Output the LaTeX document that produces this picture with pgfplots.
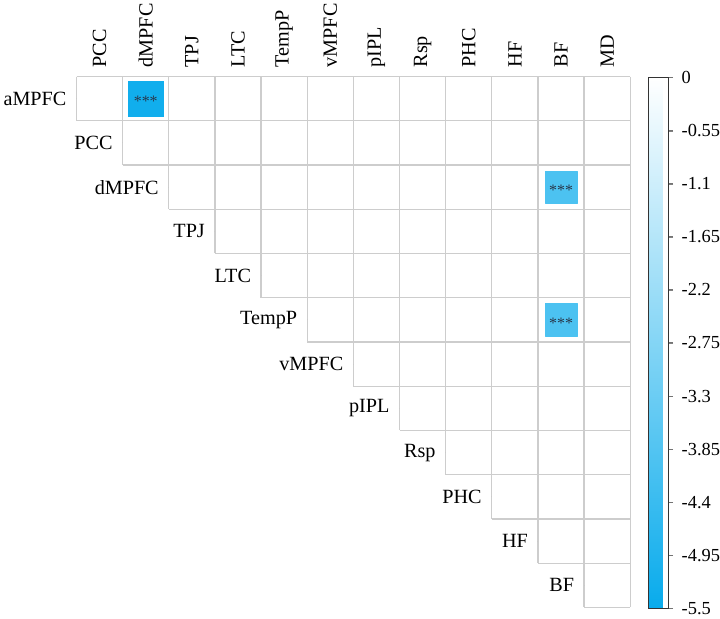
\documentclass[border=0pt]{standalone}
\usepackage{fontspec}
\setmainfont{Liberation Serif}
\usepackage{pgfplots}
\usepackage{pgfplotstable}
\pgfplotsset{compat=1.18}

\newcommand\lblfont{\fontsize{20.3}{23}\selectfont}
\newcommand\cbfont{\fontsize{18.5}{21}\selectfont}
\definecolor{gridc}{RGB}{205,205,205}
\definecolor{starc}{RGB}{40,55,75}

% significant cells: corners of the inset square, with the cell value
\pgfplotstableread{
x        y        v
1.1122   -0.9045  -5.3
1.8878   -0.9045  -5.3
1.8878   -0.0955  -5.3
1.1122   -0.0955  -5.3
10.1488  -2.8663  -4.0
10.8512  -2.8663  -4.0
10.8512  -2.1337  -4.0
10.1488  -2.1337  -4.0
10.1488  -5.8663  -4.0
10.8512  -5.8663  -4.0
10.8512  -5.1337  -4.0
10.1488  -5.1337  -4.0
}\sigcells

% centres of the significant cells (p < 0.001)
\pgfplotstableread{
x     y
1.5   -0.5
10.5  -2.5
10.5  -5.5
}\sigcentres

% row names, placed left of the first cell of each row
\pgfplotstableread{
x   y      name
0   -0.5   aMPFC
1   -1.5   PCC
2   -2.5   dMPFC
3   -3.5   TPJ
4   -4.5   LTC
5   -5.5   TempP
6   -6.5   vMPFC
7   -7.5   pIPL
8   -8.5   Rsp
9   -9.5   PHC
10  -10.5  HF
11  -11.5  BF
}\rowlabels

\begin{document}
\begin{tikzpicture}
\begin{axis}[
  scale only axis,
  width=557pt, height=534pt,
  xmin=0, xmax=12, ymin=-12, ymax=0,
  clip=false,
  axis line style={draw=none},
  xtick style={draw=none},
  ytick=\empty,
  xtick={0.5,1.5,...,11.5},
  xticklabels={PCC,dMPFC,TPJ,LTC,TempP,vMPFC,pIPL,Rsp,PHC,HF,BF,MD},
  xticklabel pos=upper,
  xticklabel shift=9pt,
  xticklabel style={rotate=90, anchor=west, inner sep=0pt, font=\lblfont},
  colormap={skyblue}{rgb255=(8,171,236) rgb255=(255,255,255)},
  point meta min=-5.5, point meta max=0,
  colorbar,
  colorbar style={
    scale only axis,
    width=20pt, height=534pt,
    at={(parent axis.north east)}, anchor=north west, xshift=10pt, yshift=-1pt,
    axis line style={draw=black!80, line width=1.2pt},
    ytick={0,-0.55,-1.1,-1.65,-2.2,-2.75,-3.3,-3.85,-4.4,-4.95,-5.5},
    yticklabels={0,-0.55,-1.1,-1.65,-2.2,-2.75,-3.3,-3.85,-4.4,-4.95,-5.5},
    ytick pos=right, yticklabel pos=right,
    ytick align=outside, major tick length=4.5pt,
    yticklabel style={font=\cbfont, anchor=west, inner sep=0pt, xshift=8.5pt},
    % short outward tick marks at the labelled values
    after end axis/.code={
      \foreach \v in {0,-0.55,-1.1,-1.65,-2.2,-2.75,-3.3,-3.85,-4.4,-4.95,-5.5}
        \draw[black!55, line width=1pt] (axis cs:1,\v) -- ++(4.5pt,0);
    },
  },
]
% cell borders of the upper triangle
\addplot[gridc, line width=1.3pt, unbounded coords=jump, mark=none] coordinates {
  (0,0) (12,0) (nan,nan)
  (0,-1) (12,-1) (nan,nan)
  (1,-2) (12,-2) (nan,nan)
  (2,-3) (12,-3) (nan,nan)
  (3,-4) (12,-4) (nan,nan)
  (4,-5) (12,-5) (nan,nan)
  (5,-6) (12,-6) (nan,nan)
  (6,-7) (12,-7) (nan,nan)
  (7,-8) (12,-8) (nan,nan)
  (8,-9) (12,-9) (nan,nan)
  (9,-10) (12,-10) (nan,nan)
  (10,-11) (12,-11) (nan,nan)
  (11,-12) (12,-12) (nan,nan)
  (0,0) (0,-1) (nan,nan)
  (1,0) (1,-2) (nan,nan)
  (2,0) (2,-3) (nan,nan)
  (3,0) (3,-4) (nan,nan)
  (4,0) (4,-5) (nan,nan)
  (5,0) (5,-6) (nan,nan)
  (6,0) (6,-7) (nan,nan)
  (7,0) (7,-8) (nan,nan)
  (8,0) (8,-9) (nan,nan)
  (9,0) (9,-10) (nan,nan)
  (10,0) (10,-11) (nan,nan)
  (11,0) (11,-12) (nan,nan)
  (12,0) (12,-12)
};
% significant cells as shaded squares
\addplot[patch, patch type=rectangle, shader=flat, draw=none, point meta=explicit]
  table[x=x, y=y, meta=v] {\sigcells};
% significance stars
\addplot[
  only marks, mark=*, mark size=0pt, mark options={draw=none, fill=none},
  nodes near coords={***},
  nodes near coords align={center},
  every node near coord/.append style={font=\fontsize{16}{17}\selectfont, text=starc, yshift=-3pt},
] table[x=x, y=y] {\sigcentres};
% row names
\addplot[
  only marks, mark=*, mark size=0pt, mark options={draw=none, fill=none},
  point meta=explicit symbolic,
  nodes near coords,
  nodes near coords align={east},
  every node near coord/.append style={font=\lblfont, inner sep=0pt, xshift=-10pt, text=black},
] table[x=x, y=y, meta=name] {\rowlabels};
% page extent
\path (axis cs:-1.6589,1.7303) rectangle (axis cs:13.8528,-12.25);
\end{axis}
\end{tikzpicture}
\end{document}
